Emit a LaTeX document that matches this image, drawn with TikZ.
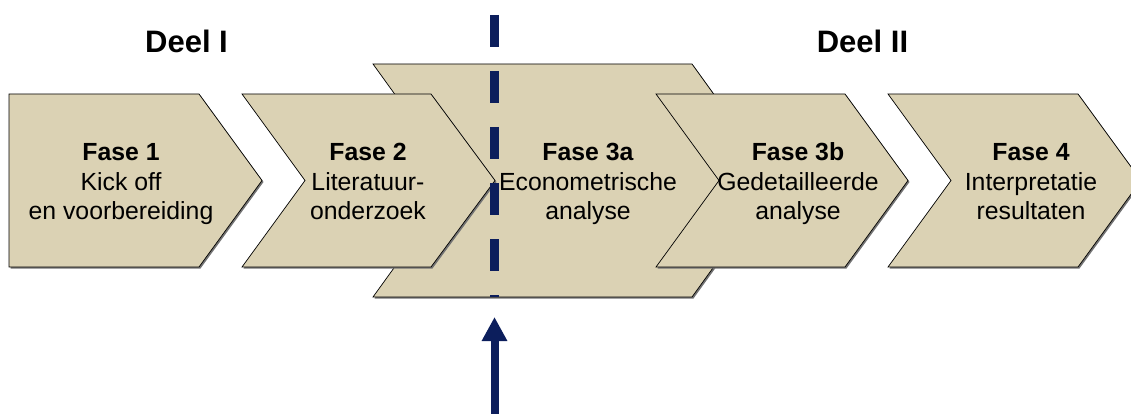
\documentclass[tikz,border=0pt]{standalone}
\usepackage{fontspec}
\setmainfont{Liberation Sans}
\usepackage{tikz}
\usetikzlibrary{arrows.meta,shadows}
\definecolor{beige}{RGB}{219,210,180}
\definecolor{navy}{RGB}{12,30,92}

\begin{document}
\begin{tikzpicture}[x=1pt, y=-1pt,
  chev/.style={fill=beige, draw=black, line width=0.7pt,
    drop shadow={shadow xshift=1.5pt, shadow yshift=-1.5pt, fill=black!55, opacity=1}},
  fase/.style={anchor=base, align=center, font=\fontsize{24.8}{29.5}\selectfont},
  deel/.style={anchor=base, font=\bfseries\fontsize{31}{37}\selectfont}]
\useasboundingbox (0,0) rectangle (1131,414);
\clip (0,0) rectangle (1131,414);

\draw[chev] (373,64) -- (692,64) -- (776,180.5) -- (692,297) -- (373,297) -- (457,180.5) -- cycle;
\draw[chev] (9,94) -- (199,94) -- (262,180.5) -- (199,267) -- (9,267) -- cycle;
\draw[chev] (242,94) -- (431,94) -- (495,180.5) -- (431,267) -- (242,267) -- (305,180.5) -- cycle;
\draw[chev] (656,94) -- (845,94) -- (908,180.5) -- (845,267) -- (656,267) -- (719,180.5) -- cycle;
\draw[chev] (888,94) -- (1078,94) -- (1141,180.5) -- (1078,267) -- (888,267) -- (951,180.5) -- cycle;

\coordinate (divtop) at (494.5,15);
\coordinate (divbottom) at (494.5,297);
\draw[navy, line width=9pt, dash pattern=on 32pt off 24pt] (divtop) -- (divbottom);

\coordinate (arrowfoot) at (494.5,414);
\coordinate (arrowtip) at (494.5,317);
\draw[navy, line width=8pt, -{Triangle[width=24pt,length=24pt]}] (arrowfoot) -- (arrowtip);

\node[deel] (deel1) at (186.5,53) {Deel I};
\node[deel] (deel2) at (862.5,53) {Deel II};

\node[fase] (fase1) at (121,219.5) {\textbf{Fase 1}\\Kick off\\en voorbereiding};
\node[fase] (fase2) at (368,219.5) {\textbf{Fase 2}\\Literatuur-\\onderzoek};
\node[fase] (fase3a) at (588,219.5) {\textbf{Fase 3a}\\Econometrische\\analyse};
\node[fase] (fase3b) at (798,219.5) {\textbf{Fase 3b}\\Gedetailleerde\\analyse};
\node[fase] (fase4) at (1031,219.5) {\textbf{Fase 4}\\Interpretatie\\resultaten};
\end{tikzpicture}
\end{document}
